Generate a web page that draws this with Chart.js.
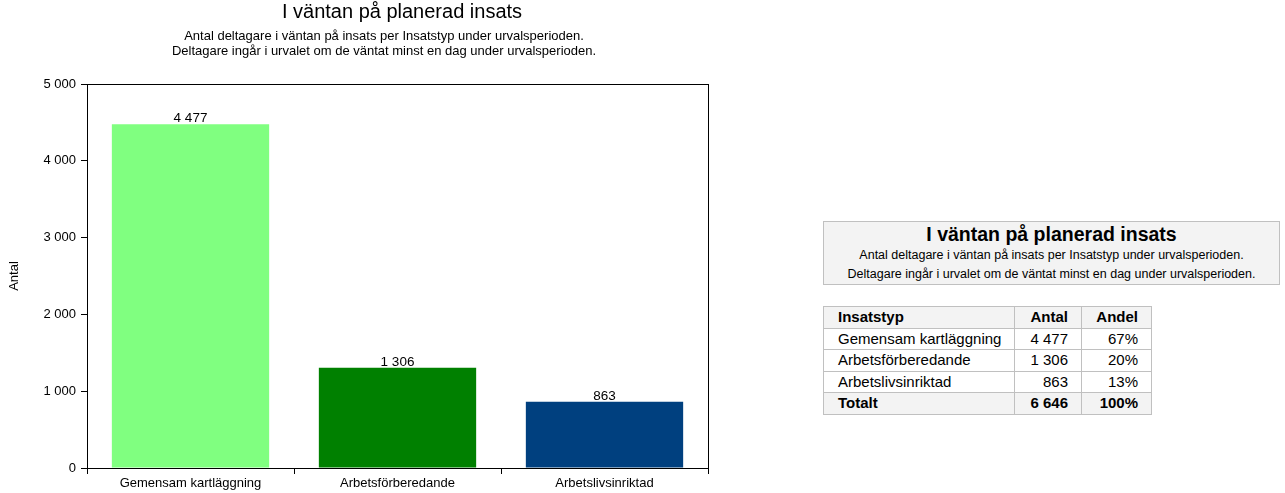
<!DOCTYPE html>
<html>
<head>
<meta charset="utf-8">
<script src="https://cdn.jsdelivr.net/npm/chart.js@4/dist/chart.umd.min.js"></script>
<style>
  body { margin: 0; background: #fff; font-family: "Liberation Sans", Arial, sans-serif; }
  #wrap { position: absolute; left: 0; top: 0; width: 720px; height: 493px; }
  #title { position: absolute; left: 102px; top: -1.5px; width: 600px; text-align: center;
           font-size: 20px; line-height: 24px; white-space: nowrap; }
  #subtitle { position: absolute; left: 84px; top: 28px; width: 600px; text-align: center;
              font-size: 13px; line-height: 15px; white-space: nowrap; }
  #box { position: absolute; left: 823px; top: 221px; width: 455px; height: 62px;
         background: #f3f3f3; border: 1px solid #c0c0c0; text-align: center; }
  #box .t { font-size: 19.5px; font-weight: bold; line-height: 24px; }
  #box .s { font-size: 12.5px; line-height: 19px; }
  table { position: absolute; left: 823px; top: 306px; border-collapse: collapse; font-size: 15px;
          table-layout: fixed; }
  td, th { border: 1px solid #c0c0c0; height: 20.5px; padding: 0 13px 0 14px; line-height: 20px;
           white-space: nowrap; overflow: visible; }
  th { font-weight: bold; }
  tr.h, tr.tot { background: #f3f3f3; }
  td.num, th.num { text-align: right; }
</style>
</head>
<body>
<div id="wrap"><canvas id="chart" width="720" height="493"></canvas></div>
<div id="title"></div>
<div id="subtitle"></div>
<div id="box"></div>
<table id="tbl"></table>
<script>
const titleText = 'I väntan på planerad insats';
const subtitleLines = [
  'Antal deltagare i väntan på insats per Insatstyp under urvalsperioden.',
  'Deltagare ingår i urvalet om de väntat minst en dag under urvalsperioden.'
];
const categories = ['Gemensam kartläggning', 'Arbetsförberedande', 'Arbetslivsinriktad'];
const values = [4477, 1306, 863];
const shares = ['67%', '20%', '13%'];
const totalValue = 6646;
const totalShare = '100%';
const barColors = ['#80ff80', '#008000', '#00407f'];

const fmt = v => String(v).replace(/\B(?=(\d{3})+(?!\d))/g, ' ');
const FONT = '"Liberation Sans", Arial, sans-serif';

// data labels above bars
const barLabels = {
  id: 'barLabels',
  afterDatasetsDraw(chart) {
    const ctx = chart.ctx;
    ctx.save();
    ctx.font = '13.5px ' + FONT;
    ctx.fillStyle = '#000';
    ctx.textAlign = 'center';
    ctx.textBaseline = 'bottom';
    chart.getDatasetMeta(0).data.forEach((bar, i) => {
      ctx.fillText(fmt(values[i]), bar.x, bar.y + 1);
    });
    ctx.restore();
  }
};

// box around plot area
const plotBorder = {
  id: 'plotBorder',
  afterDraw(chart) {
    const a = chart.chartArea, ctx = chart.ctx;
    ctx.save();
    ctx.strokeStyle = '#000';
    ctx.lineWidth = 1;
    ctx.strokeRect(Math.round(a.left) + 0.5, Math.round(a.top) + 0.5,
                   Math.round(a.right - a.left), Math.round(a.bottom - a.top));
    ctx.restore();
  }
};

new Chart(document.getElementById('chart'), {
  type: 'bar',
  data: {
    labels: categories,
    datasets: [{
      data: values,
      backgroundColor: barColors,
      borderWidth: 0,
      barPercentage: 0.76,
      categoryPercentage: 1
    }]
  },
  options: {
    responsive: false,
    animation: false,
    layout: { padding: { left: 0, right: 12, top: 84, bottom: 0 } },
    plugins: {
      legend: { display: false },
      tooltip: { enabled: false }
    },
    scales: {
      x: {
        grid: { offset: true, drawOnChartArea: false, drawTicks: true, tickLength: 6, color: '#000' },
        border: { display: true, color: '#000' },
        ticks: { color: '#000', font: { family: FONT, size: 13 }, padding: 2, maxRotation: 0 },
        afterFit(scale) { scale.height = 25; }
      },
      y: {
        min: 0, max: 5000,
        grid: { drawOnChartArea: false, drawTicks: true, tickLength: 6, color: '#000' },
        border: { display: true, color: '#000' },
        ticks: { stepSize: 1000, color: '#000', font: { family: FONT, size: 13 }, padding: 5,
                 callback: v => fmt(v) },
        title: { display: true, text: 'Antal', color: '#000', font: { family: FONT, size: 13 },
                 padding: { top: 7, bottom: 0 } },
        afterFit(scale) { scale.width = 87; }
      }
    }
  },
  plugins: [barLabels, plotBorder]
});

// titles above chart
document.getElementById('title').textContent = titleText;
document.getElementById('subtitle').innerHTML = subtitleLines.join('<br>');

// table on the right
document.getElementById('box').innerHTML =
  '<div class="t">' + titleText + '</div>' +
  subtitleLines.map(s => '<div class="s">' + s + '</div>').join('');

let html = '<tr class="h"><th style="text-align:left">Insatstyp</th><th class="num">Antal</th><th class="num">Andel</th></tr>';
categories.forEach((c, i) => {
  html += '<tr><td>' + c + '</td><td class="num">' + fmt(values[i]) + '</td><td class="num">' + shares[i] + '</td></tr>';
});
html += '<tr class="tot"><th style="text-align:left">Totalt</th><th class="num">' + fmt(totalValue) + '</th><th class="num">' + totalShare + '</th></tr>';
const tbl = document.getElementById('tbl');
tbl.innerHTML = html;
const colW = [191, 67, 70];
tbl.style.width = colW.reduce((a, b) => a + b, 0) + 'px';
tbl.querySelectorAll('tr').forEach(tr => {
  tr.querySelectorAll('td,th').forEach((cell, j) => { cell.style.width = (colW[j] - 28) + 'px'; });
});
</script>
</body>
</html>
